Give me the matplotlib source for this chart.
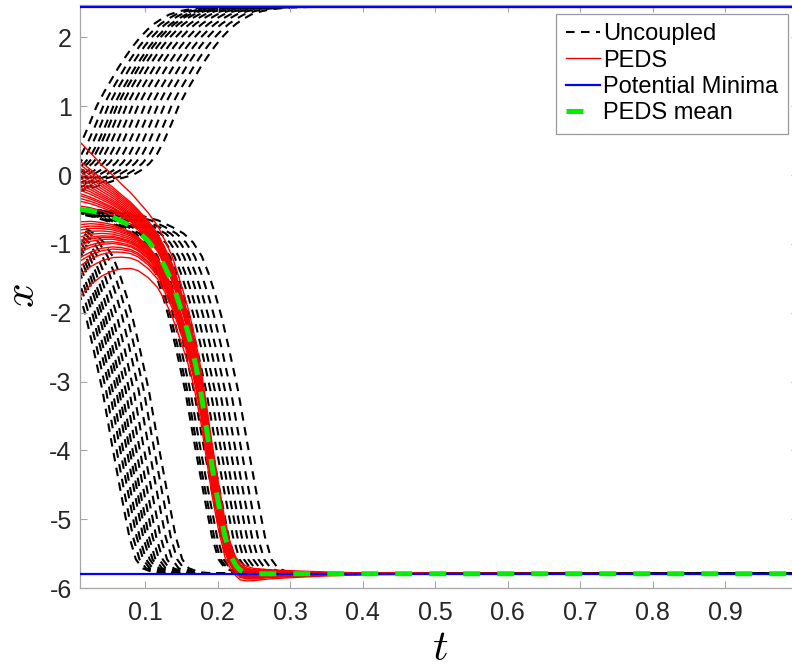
import numpy as np
import matplotlib
matplotlib.use("Agg")
import matplotlib.pyplot as plt

plt.rcParams['font.family'] = ['Liberation Sans', 'DejaVu Sans']
plt.rcParams['mathtext.fontset'] = 'cm'
plt.rcParams['axes.unicode_minus'] = False

# uncoupled trajectories: every curve of a basin is a time shift of one shape
# rising shape (tau = 0 where x crosses 1)
up_tau = [-0.14, -0.12, -0.10, -0.08, -0.063, -0.05, -0.04, -0.03, -0.02, -0.01,
          0.0, 0.01, 0.02, 0.03, 0.04, 0.05, 0.06, 0.07, 0.08, 0.09, 0.10,
          0.115, 0.13, 0.15, 0.18, 1.0]
up_x = [-0.24, -0.19, -0.12, -0.05, 0.0, 0.08, 0.17, 0.30, 0.50, 0.74,
        1.0, 1.20, 1.38, 1.56, 1.72, 1.87, 2.00, 2.11, 2.20, 2.27, 2.33,
        2.38, 2.41, 2.43, 2.44, 2.44]
up_shift = [0.033, 0.042, 0.049, 0.056, 0.061, 0.067, 0.074, 0.082, 0.090,
            0.099, 0.108, 0.117, 0.126, 0.136, 0.146]

# falling shape (tau = 0 where x crosses -3.13)
low_tau = [-0.22, -0.19, -0.16, -0.13, -0.11, -0.09, -0.075, -0.062, -0.05,
           -0.041, -0.031, -0.023, -0.013, 0.0, 0.012, 0.026, 0.037, 0.046,
           0.055, 0.07, 0.10, 1.0]
low_x = [-0.49, -0.51, -0.54, -0.60, -0.66, -0.76, -0.85, -0.98, -1.18,
         -1.42, -1.75, -2.05, -2.50, -3.13, -3.85, -4.65, -5.25, -5.58,
         -5.71, -5.77, -5.79, -5.79]
early_shift = [0.041, 0.046, 0.051, 0.055, 0.060, 0.064, 0.068, 0.073, 0.078,
               0.084, 0.091, 0.098, 0.105]
late_shift = [0.155, 0.158, 0.162, 0.167, 0.172, 0.178, 0.184, 0.190, 0.196,
              0.203, 0.210, 0.218, 0.228]

# PEDS mean and the spread of the coupled bundle around it
mean_t = [0.01, 0.025, 0.04, 0.055, 0.067, 0.08, 0.09, 0.104, 0.117, 0.127,
          0.137, 0.145, 0.152, 0.159, 0.165, 0.17, 0.177, 0.185, 0.192, 0.201,
          0.21, 0.215, 0.219, 0.225, 0.231, 0.24, 0.249, 0.27, 0.30, 0.35,
          0.40, 0.50, 1.0]
mean_x = [-0.50, -0.52, -0.56, -0.61, -0.67, -0.74, -0.82, -0.96, -1.13, -1.33,
          -1.56, -1.81, -2.04, -2.29, -2.54, -2.78, -3.17, -3.72, -4.22, -4.77,
          -5.25, -5.43, -5.55, -5.67, -5.74, -5.775, -5.79, -5.79, -5.79, -5.79,
          -5.79, -5.79, -5.79]
spread = [1.0, 0.85, 0.72, 0.62, 0.55, 0.49, 0.45, 0.42, 0.40, 0.39,
          0.39, 0.38, 0.37, 0.36, 0.35, 0.35, 0.35, 0.35, 0.34, 0.30,
          0.24, 0.19, 0.15, 0.12, 0.11, 0.095, 0.08, 0.06, 0.045, 0.025,
          0.012, 0.004, 0.0]
peds_x0 = [0.48, 0.20, 0.15, 0.10, 0.05, 0.0, -0.05, -0.10, -0.14, -0.18,
           -0.22, -0.27, -0.30, -0.34, -0.38, -0.45, -0.68, -0.72, -0.76, -0.80,
           -0.85, -0.90, -0.95, -0.98, -1.02, -1.08, -1.12, -1.20, -1.25, -1.32,
           -1.45, -1.76]

minima = [2.44, -5.79]

fig = plt.figure(figsize=(7.92, 6.68), dpi=100)
ax = fig.add_axes([80 / 792, 1 - 588.2 / 668, 717.75 / 792, 583.3 / 668])

black_ls = (0, (4.1, 3.1))
h_unc = None
for T in up_shift:
    h_unc, = ax.plot(np.array(up_tau) + T, up_x, color='k', lw=1.5, ls=black_ls, zorder=1)
for T in early_shift + late_shift:
    ax.plot(np.array(low_tau) + T, low_x, color='k', lw=1.5, ls=black_ls, zorder=1)

mt = np.array(mean_t)
mx = np.array(mean_x)
sp = np.array(spread)
h_peds = None
for x0 in peds_x0:
    h_peds, = ax.plot(mt, mx + (x0 - mx[0]) * sp, color='red', lw=1.0, zorder=2)

h_min = None
for m in minima:
    h_min = ax.axhline(m, color='blue', lw=1.6, zorder=3)

h_mean, = ax.plot(mt, mx, color='#00ee00', lw=3.6, ls=(0, (3.4, 3.4)), zorder=4)

ax.set_xlim(0.01, 1.0)
ax.set_ylim(-6.0, 2.47)
ax.set_xticks([0.1, 0.2, 0.3, 0.4, 0.5, 0.6, 0.7, 0.8, 0.9])
ax.set_xticklabels(['0.1', '0.2', '0.3', '0.4', '0.5', '0.6', '0.7', '0.8', '0.9'])
ax.set_yticks([-6, -5, -4, -3, -2, -1, 0, 1, 2])

for s in ax.spines.values():
    s.set_color('#a6a6a6')
    s.set_linewidth(0.9)
ax.tick_params(direction='in', length=5, width=0.8, color='#a6a6a6',
               labelcolor='#262626', labelsize=18, top=True, right=True)
ax.tick_params(axis='x', pad=9)
ax.tick_params(axis='y', pad=6)

# axis labels placed in figure pixels
fig.text(440 / 792, 1 - 649 / 668, r'$t$', fontsize=31, ha='center', va='center')
fig.text(23 / 792, 1 - 296 / 668, r'$x$', fontsize=31, ha='center', va='center',
         rotation=90)

leg = ax.legend([h_unc, h_peds, h_min, h_mean],
                ['Uncoupled', 'PEDS', 'Potential Minima', 'PEDS mean'],
                loc='upper right', bbox_to_anchor=(788 / 792, 1 - 14 / 668),
                bbox_transform=fig.transFigure, fontsize=17, handlelength=1.45,
                handletextpad=0.15, labelspacing=0.18, borderpad=0.4,
                borderaxespad=0, fancybox=False, framealpha=1, edgecolor='#999999')
leg.get_frame().set_linewidth(0.9)

fig.savefig('out.png', dpi=100)
